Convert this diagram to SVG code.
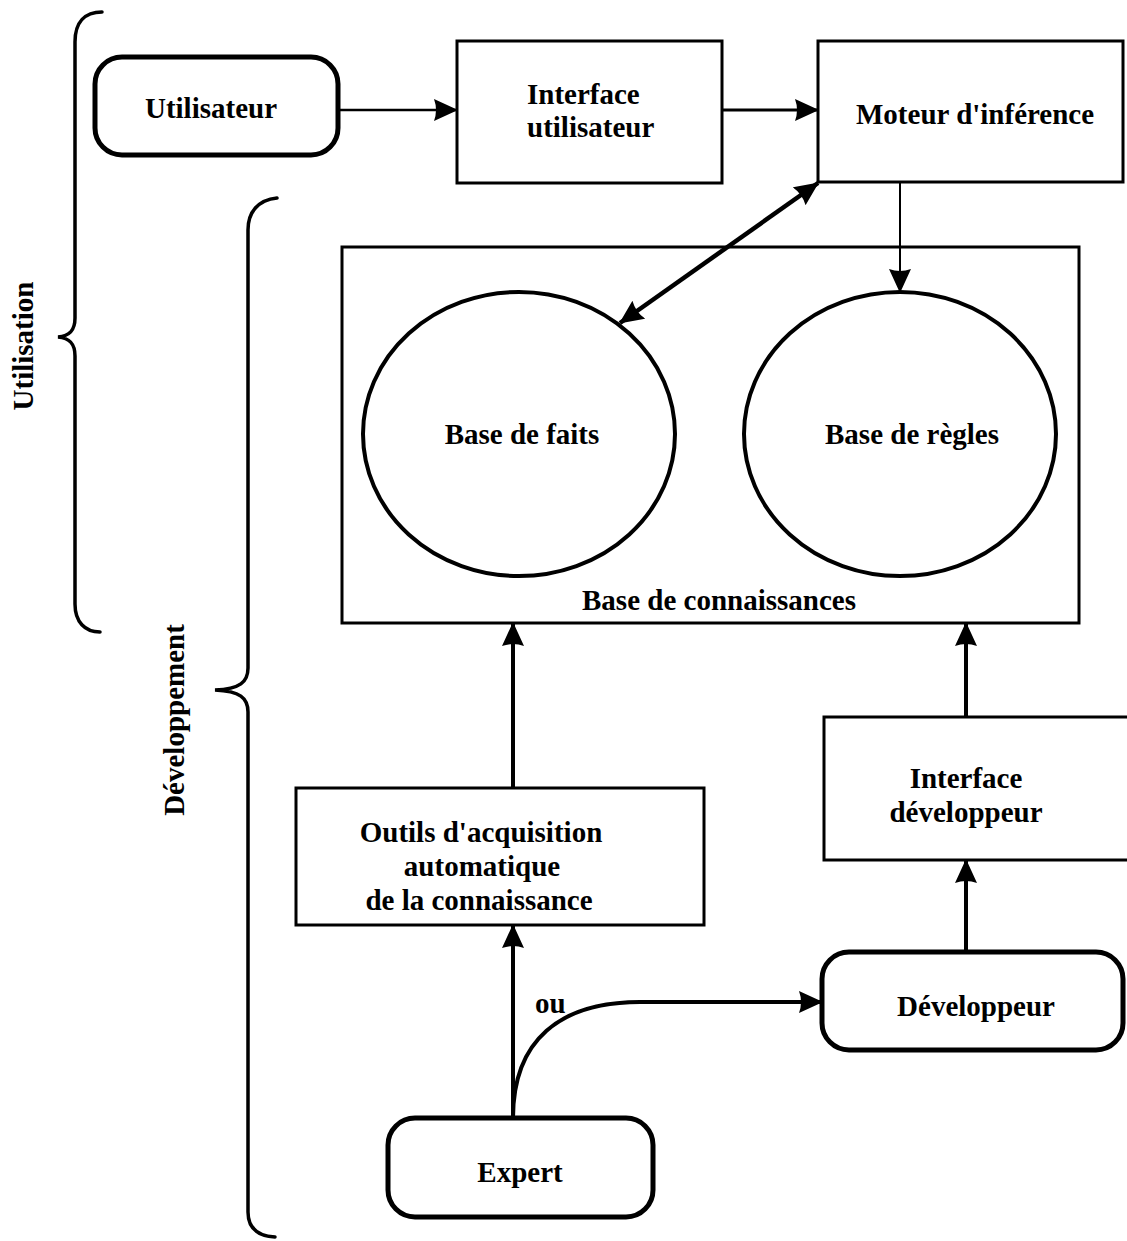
<svg xmlns="http://www.w3.org/2000/svg" width="1127" height="1241" viewBox="0 0 1127 1241">
  <style>
    text { font-family: "Liberation Serif", "Times New Roman", serif; font-weight: bold; font-size: 29px; fill: #000; }
    .box { fill: #fff; stroke: #000; stroke-width: 3; }
    .actor { fill: #fff; stroke: #000; stroke-width: 5; }
    .circle { fill: none; stroke: #000; stroke-width: 4; }
    .brace { fill: none; stroke: #000; stroke-width: 3.5; stroke-linecap: round; }
    .edge { fill: none; stroke: #000; }
    .mid { text-anchor: middle; }
  </style>
  <defs>
    <marker id="head" markerUnits="userSpaceOnUse" viewBox="0 0 24 22" refX="23" refY="11" markerWidth="24" markerHeight="22" orient="auto">
      <path d="M0,0 Q4,11 0,22 L24,11 Z" fill="#000"/>
    </marker>
    <marker id="headStart" markerUnits="userSpaceOnUse" viewBox="0 0 24 22" refX="23" refY="11" markerWidth="24" markerHeight="22" orient="auto-start-reverse">
      <path d="M0,0 Q4,11 0,22 L24,11 Z" fill="#000"/>
    </marker>
  </defs>

  <!-- grouping braces -->
  <g id="brace-utilisation">
    <path class="brace" d="M102,12 C85,12 75,22 75,42 L75,318 C75,330 70,336 58,337 C70,338 75,344 75,356 L75,604 C75,622 85,632 100,632"/>
    <text class="mid" transform="translate(33,346) rotate(-90)">Utilisation</text>
  </g>
  <g id="brace-developpement">
    <path class="brace" d="M277,198 C258,200 248,212 248,230 L248,668 C248,682 240,689 215,690 C240,691 248,698 248,712 L248,1212 C248,1228 258,1236 275,1237"/>
    <text class="mid" transform="translate(184,720) rotate(-90)">Développement</text>
  </g>

  <!-- knowledge base container -->
  <g id="base-connaissances">
    <rect class="box" x="342" y="247" width="737" height="376"/>
    <text class="mid" x="719" y="610">Base de connaissances</text>
  </g>
  <g id="base-faits">
    <ellipse class="circle" cx="519" cy="434" rx="156" ry="142"/>
    <text class="mid" x="522" y="444">Base de faits</text>
  </g>
  <g id="base-regles">
    <ellipse class="circle" cx="900" cy="434" rx="156" ry="142"/>
    <text class="mid" x="912" y="444">Base de règles</text>
  </g>

  <!-- usage chain -->
  <g id="utilisateur">
    <rect class="actor" x="95" y="57" width="243" height="98" rx="27" ry="27"/>
    <text class="mid" x="211" y="118">Utilisateur</text>
  </g>
  <g id="interface-utilisateur">
    <rect class="box" x="457" y="41" width="265" height="142"/>
    <text x="527" y="104">Interface</text>
    <text x="527" y="137">utilisateur</text>
  </g>
  <g id="moteur">
    <rect class="box" x="818" y="41" width="305" height="141"/>
    <text x="856" y="124">Moteur d'inférence</text>
  </g>

  <!-- development chain -->
  <g id="outils-acquisition">
    <rect class="box" x="296" y="788" width="408" height="137"/>
    <text class="mid" x="481" y="842">Outils d'acquisition</text>
    <text class="mid" x="482" y="876">automatique</text>
    <text class="mid" x="479" y="910">de la connaissance</text>
  </g>
  <g id="interface-developpeur">
    <rect class="box" x="824" y="717" width="310" height="143"/>
    <text class="mid" x="966" y="788">Interface</text>
    <text class="mid" x="966" y="822">développeur</text>
  </g>
  <g id="developpeur">
    <rect class="actor" x="822" y="952" width="301" height="98" rx="27" ry="27"/>
    <text class="mid" x="976" y="1016">Développeur</text>
  </g>
  <g id="expert">
    <rect class="actor" x="388" y="1118" width="265" height="99" rx="27" ry="27"/>
    <text class="mid" x="520" y="1182">Expert</text>
  </g>

  <!-- connectors -->
  <g id="connectors">
    <path class="edge" stroke-width="2.5" d="M338,110 L457,110" marker-end="url(#head)"/>
    <path class="edge" stroke-width="3" d="M722,110 L818,110" marker-end="url(#head)"/>
    <path class="edge" stroke-width="2" d="M900,182 L900,292" marker-end="url(#head)"/>
    <path class="edge" stroke-width="4.5" d="M620,323 L818,183" marker-start="url(#headStart)" marker-end="url(#head)"/>
    <path class="edge" stroke-width="4" d="M513,788 L513,623" marker-end="url(#head)"/>
    <path class="edge" stroke-width="4" d="M966,717 L966,623" marker-end="url(#head)"/>
    <path class="edge" stroke-width="4" d="M966,952 L966,860" marker-end="url(#head)"/>
    <path class="edge" stroke-width="4" d="M513,1118 L513,925" marker-end="url(#head)"/>
    <path class="edge" stroke-width="4" d="M513,1118 C513,1040 560,1002 640,1002 L822,1002" marker-end="url(#head)"/>
    <text x="535" y="1013">ou</text>
  </g>
</svg>
